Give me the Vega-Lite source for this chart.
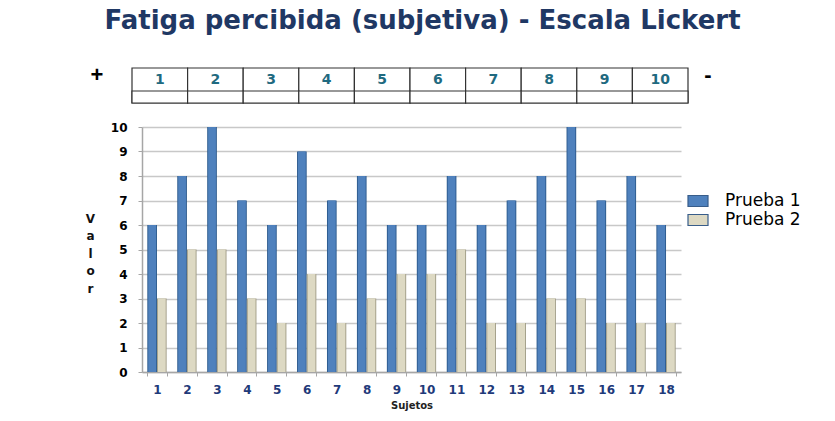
{
  "$schema": "https://vega.github.io/schema/vega-lite/v6.json",
  "width": 539,
  "height": 245,
  "autosize": {"type": "none"},
  "padding": {"left": 142, "top": 127, "right": 154, "bottom": 49},
  "background": "white",
  "config": {"view": {"stroke": null}, "font": "Liberation Sans"},
  "title": {
    "text": "Fatiga percibida (subjetiva) - Escala Lickert",
    "font": "DejaVu Sans",
    "fontSize": 26,
    "fontWeight": "bold",
    "color": "#1F3864",
    "anchor": "middle",
    "frame": "group",
    "baseline": "alphabetic",
    "offset": 9,
    "dx": 11
  },
  "datasets": {
    "scores": [
      {"sujeto": 1, "prueba": "Prueba 1", "valor": 6}, {"sujeto": 1, "prueba": "Prueba 2", "valor": 3},
      {"sujeto": 2, "prueba": "Prueba 1", "valor": 8}, {"sujeto": 2, "prueba": "Prueba 2", "valor": 5},
      {"sujeto": 3, "prueba": "Prueba 1", "valor": 10}, {"sujeto": 3, "prueba": "Prueba 2", "valor": 5},
      {"sujeto": 4, "prueba": "Prueba 1", "valor": 7}, {"sujeto": 4, "prueba": "Prueba 2", "valor": 3},
      {"sujeto": 5, "prueba": "Prueba 1", "valor": 6}, {"sujeto": 5, "prueba": "Prueba 2", "valor": 2},
      {"sujeto": 6, "prueba": "Prueba 1", "valor": 9}, {"sujeto": 6, "prueba": "Prueba 2", "valor": 4},
      {"sujeto": 7, "prueba": "Prueba 1", "valor": 7}, {"sujeto": 7, "prueba": "Prueba 2", "valor": 2},
      {"sujeto": 8, "prueba": "Prueba 1", "valor": 8}, {"sujeto": 8, "prueba": "Prueba 2", "valor": 3},
      {"sujeto": 9, "prueba": "Prueba 1", "valor": 6}, {"sujeto": 9, "prueba": "Prueba 2", "valor": 4},
      {"sujeto": 10, "prueba": "Prueba 1", "valor": 6}, {"sujeto": 10, "prueba": "Prueba 2", "valor": 4},
      {"sujeto": 11, "prueba": "Prueba 1", "valor": 8}, {"sujeto": 11, "prueba": "Prueba 2", "valor": 5},
      {"sujeto": 12, "prueba": "Prueba 1", "valor": 6}, {"sujeto": 12, "prueba": "Prueba 2", "valor": 2},
      {"sujeto": 13, "prueba": "Prueba 1", "valor": 7}, {"sujeto": 13, "prueba": "Prueba 2", "valor": 2},
      {"sujeto": 14, "prueba": "Prueba 1", "valor": 8}, {"sujeto": 14, "prueba": "Prueba 2", "valor": 3},
      {"sujeto": 15, "prueba": "Prueba 1", "valor": 10}, {"sujeto": 15, "prueba": "Prueba 2", "valor": 3},
      {"sujeto": 16, "prueba": "Prueba 1", "valor": 7}, {"sujeto": 16, "prueba": "Prueba 2", "valor": 2},
      {"sujeto": 17, "prueba": "Prueba 1", "valor": 8}, {"sujeto": 17, "prueba": "Prueba 2", "valor": 2},
      {"sujeto": 18, "prueba": "Prueba 1", "valor": 6}, {"sujeto": 18, "prueba": "Prueba 2", "valor": 2}
    ],
    "escala": [
      {"n": 1}, {"n": 2}, {"n": 3}, {"n": 4}, {"n": 5},
      {"n": 6}, {"n": 7}, {"n": 8}, {"n": 9}, {"n": 10}
    ],
    "signos": [{"signo": "+"}, {"signo": "-"}]
  },
  "layer": [
    {
      "data": {"name": "scores"},
      "mark": {"type": "bar", "xOffset": 3},
      "encoding": {
        "x": {"field": "sujeto", "type": "ordinal", "scale": {"paddingInner": 0.355, "paddingOuter": 0.1775}, "axis": null},
        "xOffset": {"field": "prueba", "type": "nominal"},
        "y": {"field": "valor", "type": "quantitative", "scale": {"domain": [0, 10], "nice": false}, "axis": null},
        "color": {
          "field": "prueba",
          "type": "nominal",
          "scale": {"domain": ["Prueba 1", "Prueba 2"], "range": ["#2D5B8E", "#A19D87"]},
          "legend": null
        }
      }
    },
    {
      "data": {"name": "scores"},
      "mark": {"type": "bar", "xOffset": 2, "width": 7.8},
      "encoding": {
        "x": {
          "field": "sujeto",
          "type": "ordinal",
          "scale": {"paddingInner": 0.355, "paddingOuter": 0.1775},
          "axis": {
            "title": "Sujetos",
            "labelAngle": 0,
            "labelFont": "DejaVu Sans",
            "labelFontWeight": "bold",
            "labelFontSize": 12,
            "labelColor": "#1F3A7A",
            "labelPadding": 8,
            "tickBand": "extent",
            "tickSize": 4,
            "tickColor": "#A6A6A6",
            "domainColor": "#A6A6A6",
            "domainWidth": 1.5,
            "grid": false,
            "titleFont": "DejaVu Sans",
            "titleFontSize": 10,
            "titleFontWeight": "bold",
            "titleColor": "#222222",
            "titlePadding": 5
          }
        },
        "xOffset": {"field": "prueba", "type": "nominal"},
        "y": {
          "field": "valor",
          "type": "quantitative",
          "scale": {"domain": [0, 10], "nice": false},
          "axis": {
            "values": [0, 1, 2, 3, 4, 5, 6, 7, 8, 9, 10],
            "labelOverlap": false,
            "grid": true,
            "gridColor": "#C8C8C8",
            "gridWidth": 1.5,
            "domainColor": "#A6A6A6",
            "domainWidth": 1.5,
            "tickSize": 4,
            "tickColor": "#A6A6A6",
            "labelFont": "DejaVu Sans",
            "labelFontWeight": "bold",
            "labelFontSize": 12,
            "labelColor": "#000000",
            "labelPadding": 11,
            "title": ["V", "a", "l", "o", "r"],
            "titleAngle": 0,
            "titleAlign": "center",
            "titleBaseline": "top",
            "titleX": -52,
            "titleY": 86,
            "titleLineHeight": 17.5,
            "titleFont": "DejaVu Sans",
            "titleFontWeight": "bold",
            "titleFontSize": 12,
            "titleColor": "#111111"
          }
        },
        "color": {
          "field": "prueba",
          "type": "nominal",
          "scale": {"domain": ["Prueba 1", "Prueba 2"], "range": ["#4F81BD", "#DDD9C3"]},
          "legend": {
            "title": null,
            "orient": "none",
            "legendX": 545,
            "legendY": 63,
            "padding": 0,
            "symbolType": "M-1,-0.55L1,-0.55L1,0.55L-1,0.55Z",
            "symbolSize": 400,
            "symbolStrokeColor": "#385D8A",
            "symbolStrokeWidth": 1.2,
            "labelFont": "DejaVu Sans",
            "labelFontSize": 17,
            "labelColor": "#000000",
            "labelOffset": 16,
            "rowPadding": -1.5
          }
        }
      }
    },
    {
      "data": {"name": "escala"},
      "mark": {"type": "rect", "fill": "white", "stroke": "#333333", "strokeWidth": 1.2},
      "encoding": {
        "x": {"field": "n", "type": "ordinal", "scale": {"range": [-10, 546], "paddingInner": 0, "paddingOuter": 0}, "axis": null},
        "y": {"datum": 0, "type": "quantitative", "scale": {"domain": [0, 1], "range": [-59, -24]}, "axis": null},
        "y2": {"datum": 1}
      }
    },
    {
      "data": {"name": "escala"},
      "mark": {"type": "rect", "fill": "white", "stroke": "#333333", "strokeWidth": 1.2},
      "encoding": {
        "x": {"field": "n", "type": "ordinal", "scale": {"range": [-10, 546], "paddingInner": 0, "paddingOuter": 0}, "axis": null},
        "y": {"datum": 0.657, "type": "quantitative", "scale": {"domain": [0, 1], "range": [-59, -24]}, "axis": null},
        "y2": {"datum": 1}
      }
    },
    {
      "data": {"name": "escala"},
      "mark": {"type": "text", "font": "DejaVu Sans", "fontWeight": "bold", "fontSize": 14, "color": "#1F6A80", "baseline": "middle"},
      "encoding": {
        "x": {"field": "n", "type": "ordinal", "scale": {"range": [-10, 546], "paddingInner": 0, "paddingOuter": 0}, "axis": null},
        "y": {"datum": 0.33, "type": "quantitative", "scale": {"domain": [0, 1], "range": [-59, -24]}, "axis": null},
        "text": {"field": "n", "type": "ordinal"}
      }
    },
    {
      "data": {"name": "signos"},
      "mark": {"type": "text", "font": "Liberation Sans", "fontWeight": "bold", "fontSize": 22, "color": "#000000", "baseline": "middle"},
      "encoding": {
        "x": {
          "field": "signo",
          "type": "nominal",
          "scale": {"type": "point", "domain": ["+", "-"], "range": [-45, 566], "padding": 0},
          "axis": null
        },
        "y": {"datum": 0.2, "type": "quantitative", "scale": {"domain": [0, 1], "range": [-59, -24]}, "axis": null},
        "text": {"field": "signo"}
      }
    }
  ],
  "resolve": {"scale": {"x": "independent", "y": "independent", "color": "independent", "xOffset": "independent"}}
}
